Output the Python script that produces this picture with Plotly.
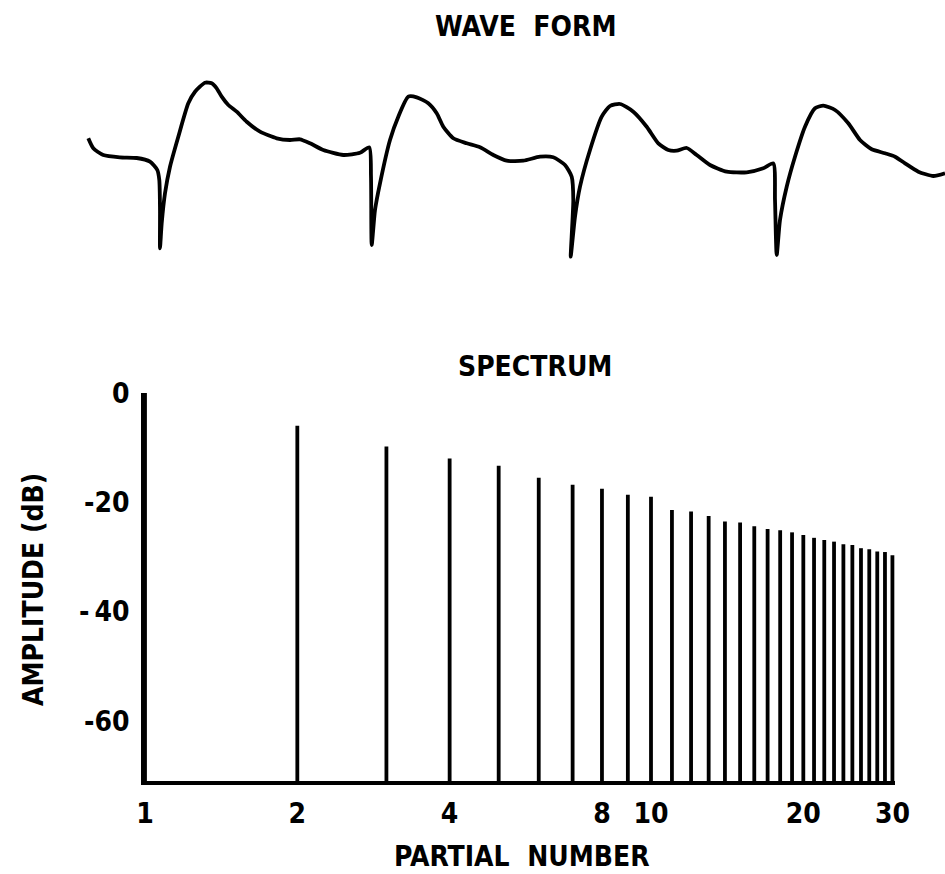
import plotly.graph_objects as go

# ---------------- data ----------------
partials = list(range(1, 31))
amplitude_db = [0.0, -6.0, -9.8, -12.0, -13.3, -15.5, -16.8, -17.5, -18.6, -19.0,
                -21.4, -21.7, -22.5, -23.5, -23.7, -24.4, -24.9, -25.1, -25.5, -26.0,
                -26.5, -26.9, -27.2, -27.7, -27.8, -28.4, -28.6, -29.0, -29.1, -29.7]
x_tick_vals = [1, 2, 4, 8, 10, 20, 30]
y_tick_vals = [0, -20, -40, -60]
y_tick_text = ["0", "-20", "-\u200940", "-60"]

# waveform (time, amplitude in drawing units)
wave_t = [88.3, 93.3, 103.3, 120, 136.7, 150, 157.3, 159.3, 160, 160, 161.7, 165, 170, 178.3,
          188.3, 195, 205, 211.7, 216.7, 221.7, 228.3, 236.7, 246.7, 260, 276.7, 290, 300,
          310, 323.3, 343.3, 360, 369.3, 371, 371.7, 375, 380, 390, 398.3, 408.3, 416.7,
          428.3, 436.7, 443.3, 453.3, 466.7, 480, 493.3, 506.7, 523.3, 540, 553.3, 565,
          571.7, 573.3, 570.7, 575, 580, 590, 601.7, 610, 620, 633.3, 646.7, 658.3, 668.3,
          676.7, 686.7, 696.7, 710, 726.7, 746.7, 763.3, 773.3, 775, 776.7, 780, 786.7,
          795, 805, 815, 823.3, 835, 848.3, 860, 871.7, 885, 895, 905, 918.3, 933.3, 945]
wave_amp = [-138.3, -148.3, -155, -157.3, -158, -161.7, -170, -180, -210, -248.3, -223.3,
            -193.3, -166.7, -136.7, -103.3, -91.7, -82.7, -83.3, -88.3, -96.7, -105, -111.7,
            -121.7, -131.7, -138.3, -140, -139.3, -143.3, -150, -155, -152.7, -147.3, -176.7,
            -245, -210, -183.3, -140, -116.7, -96.7, -97.3, -103.3, -113.3, -126.7, -138.3,
            -143.3, -147.3, -155, -160.7, -160.7, -156.7, -157.3, -165, -176.7, -200, -256.7,
            -216.7, -186.7, -150, -116.7, -106, -104, -111.7, -126.7, -143.3, -150, -150.7,
            -148, -155, -165, -171.7, -172.3, -168.3, -163.3, -200, -255, -220, -186.7,
            -156.7, -126.7, -108.3, -105.7, -110, -123.3, -140, -149.3, -153.3, -156.7,
            -163.3, -171.7, -176, -173.3]

W, H = 945, 874
FONT = "DejaVu Sans Condensed, DejaVu Sans"
TXT = dict(family=FONT, size=28, color="black", weight="bold")

fig = go.Figure()

# stems
sx, sy = [], []
for p, a in zip(partials, amplitude_db):
    sx += [p, p, None]
    sy += [-71, a, None]
fig.add_trace(go.Scatter(x=sx, y=sy, mode="lines", line=dict(color="black", width=3.8),
                         hoverinfo="skip", showlegend=False, xaxis="x", yaxis="y"))

# waveform
fig.add_trace(go.Scatter(x=wave_t, y=wave_amp, mode="lines",
                         line=dict(color="black", width=3.8, shape="spline", smoothing=0.6),
                         hoverinfo="skip", showlegend=False, xaxis="x2", yaxis="y2"))

x0, x1 = 145 / W, 895 / W
y_bot, y_top = (H - 781) / H, (H - 393) / H

fig.update_layout(
    width=W, height=H,
    margin=dict(l=0, r=0, t=0, b=0, autoexpand=False),
    paper_bgcolor="white", plot_bgcolor="white",
    font=dict(family=FONT, color="black"),
    xaxis=dict(type="log", domain=[x0, x1], range=[0, 750 / 506],
               tickvals=x_tick_vals, ticktext=[str(v) for v in x_tick_vals],
               showgrid=False, zeroline=False, showline=True, linecolor="black",
               linewidth=3.8, ticks="", ticklabelstandoff=5, automargin=False,
               tickfont=TXT, anchor="y", fixedrange=True),
    yaxis=dict(domain=[y_bot, y_top], range=[-71, 0],
               tickvals=y_tick_vals, ticktext=y_tick_text,
               showgrid=False, zeroline=False, showline=True, linecolor="black",
               linewidth=3.8, ticks="", ticklabelstandoff=6, automargin=False,
               tickfont=TXT, anchor="x", fixedrange=True),
    xaxis2=dict(domain=[0, 1], range=[0, 945], visible=False, anchor="y2",
                automargin=False, fixedrange=True),
    yaxis2=dict(domain=[(H - 270) / H, (H - 60) / H], range=[-270, -60], visible=False,
                anchor="x2", automargin=False, fixedrange=True),
    annotations=[
        dict(text="WAVE\u00a0\u00a0FORM", x=525 / W, y=(H - 26) / H, xref="paper", yref="paper",
             showarrow=False, font=TXT, xanchor="center", yanchor="middle"),
        dict(text="SPECTRUM", x=535 / W, y=(H - 366) / H, xref="paper", yref="paper",
             showarrow=False, font=TXT, xanchor="center", yanchor="middle"),
        dict(text="PARTIAL\u00a0\u00a0NUMBER", x=522 / W, y=(H - 856) / H, xref="paper",
             yref="paper", showarrow=False, font=TXT, xanchor="center", yanchor="middle"),
        dict(text="AMPLITUDE\u00a0(dB)", x=33 / W, y=(H - 590) / H, xref="paper",
             yref="paper", showarrow=False, font=TXT, textangle=-90,
             xanchor="center", yanchor="middle"),
    ],
)

fig.write_html(
    "out.html",
    config={"displayModeBar": False, "staticPlot": True},
    post_script="document.body.style.margin='0';document.body.style.padding='0';"
                "document.body.style.overflow='hidden';",
)
